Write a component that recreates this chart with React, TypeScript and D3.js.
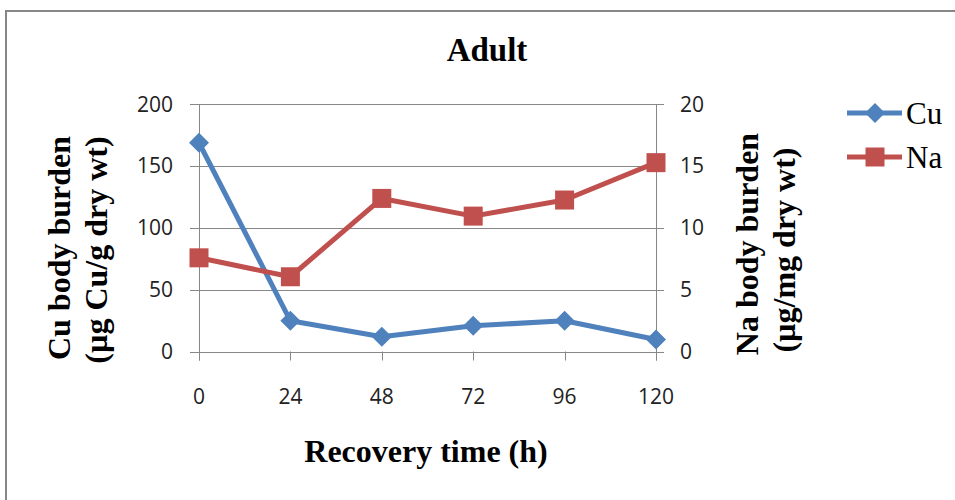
import React from "react";
import * as d3 from "d3";

// Recovery time (h)
const hours = [0, 24, 48, 72, 96, 120];
// Cu body burden (µg Cu/g dry wt) — primary axis
const cuValues = [168.7, 24.8, 11.9, 20.8, 24.8, 9.7];
// Na body burden (µg/mg dry wt) — secondary axis
const naValues = [7.57, 6.04, 12.37, 10.94, 12.24, 15.26];
const leftTicks = [0, 50, 100, 150, 200];
const rightTicks = [0, 5, 10, 15, 20];

const W = 955;
const H = 500;
const plot = { left: 199, right: 656, top: 104, bottom: 351.5 };
const BLUE = "#4F81BD";
const RED = "#C0504D";
const GRID = "#878787";
const SANS = "'Open Sans', 'Liberation Sans', sans-serif";
const SERIF = "'Liberation Serif', 'Times New Roman', serif";

export default function App() {
  const x = d3.scalePoint<number>().domain(hours).range([plot.left, plot.right]);
  const yL = d3.scaleLinear().domain([0, 200]).range([plot.bottom, plot.top]);
  const yR = d3.scaleLinear().domain([0, 20]).range([plot.bottom, plot.top]);

  const cuLine = d3
    .line<number>()
    .x((_, i) => x(hours[i])!)
    .y((d) => yL(d));
  const naLine = d3
    .line<number>()
    .x((_, i) => x(hours[i])!)
    .y((d) => yR(d));

  const diamond = (cx: number, cy: number, r: number) =>
    `M${cx},${cy - r}L${cx + r},${cy}L${cx},${cy + r}L${cx - r},${cy}Z`;
  const SQ = 19;
  const DR = 10;

  return (
    <svg
      width={W}
      height={H}
      style={{ position: "absolute", left: 0, top: 0, background: "#fff" }}
    >
      {/* chart frame */}
      <rect x={6} y={11} width={W + 10} height={H + 10} fill="#fff" stroke={GRID} strokeWidth={2} />

      {/* title */}
      <text x={487} y={61} textAnchor="middle" fontFamily={SERIF} fontWeight="bold" fontSize={33}>
        Adult
      </text>

      {/* horizontal gridlines with outward ticks */}
      {leftTicks.map((t) => (
        <line
          key={"g" + t}
          x1={plot.left - 9}
          x2={plot.right + 8}
          y1={Math.round(yL(t)) + 0.5}
          y2={Math.round(yL(t)) + 0.5}
          stroke={GRID}
          strokeWidth={1}
        />
      ))}
      {/* vertical axis lines */}
      <line x1={plot.left + 0.5} x2={plot.left + 0.5} y1={plot.top} y2={plot.bottom + 9} stroke={GRID} />
      <line x1={plot.right + 0.5} x2={plot.right + 0.5} y1={plot.top} y2={plot.bottom + 9} stroke={GRID} />
      {/* x tick marks */}
      {hours.map((h) => (
        <line
          key={"xt" + h}
          x1={Math.round(x(h)!) + 0.5}
          x2={Math.round(x(h)!) + 0.5}
          y1={plot.bottom}
          y2={plot.bottom + 9}
          stroke={GRID}
        />
      ))}

      {/* left tick labels */}
      {leftTicks.map((t) => (
        <text key={"lt" + t} x={173} y={yL(t) + 7.5} textAnchor="end" fontFamily={SANS} fontSize={21} fill="#222">
          {t}
        </text>
      ))}
      {/* right tick labels */}
      {rightTicks.map((t) => (
        <text key={"rt" + t} x={680} y={yR(t) + 7.5} textAnchor="start" fontFamily={SANS} fontSize={21} fill="#222">
          {t}
        </text>
      ))}
      {/* x tick labels */}
      {hours.map((h) => (
        <text key={"xl" + h} x={x(h)!} y={404} textAnchor="middle" fontFamily={SANS} fontSize={21} fill="#222">
          {h}
        </text>
      ))}

      {/* series */}
      <path d={cuLine(cuValues)!} fill="none" stroke={BLUE} strokeWidth={5} strokeLinejoin="round" />
      {cuValues.map((v, i) => (
        <path key={"cu" + i} d={diamond(x(hours[i])!, yL(v), DR)} fill={BLUE} />
      ))}
      <path d={naLine(naValues)!} fill="none" stroke={RED} strokeWidth={5} strokeLinejoin="round" />
      {naValues.map((v, i) => (
        <rect key={"na" + i} x={x(hours[i])! - SQ / 2} y={yR(v) - SQ / 2} width={SQ} height={SQ} fill={RED} />
      ))}

      {/* axis titles */}
      <text transform="translate(70,248) rotate(-90)" textAnchor="middle" fontFamily={SERIF} fontWeight="bold" fontSize={32}>
        Cu body burden
      </text>
      <text transform="translate(107,250) rotate(-90)" textAnchor="middle" fontFamily={SERIF} fontWeight="bold" fontSize={32}>
        (µg Cu/g dry wt)
      </text>
      <text transform="translate(758,244) rotate(-90)" textAnchor="middle" fontFamily={SERIF} fontWeight="bold" fontSize={32}>
        Na body burden
      </text>
      <text transform="translate(795,250) rotate(-90)" textAnchor="middle" fontFamily={SERIF} fontWeight="bold" fontSize={32}>
        (µg/mg dry wt)
      </text>
      <text x={426} y={462} textAnchor="middle" fontFamily={SERIF} fontWeight="bold" fontSize={32}>
        Recovery time (h)
      </text>

      {/* legend */}
      <line x1={847} x2={902} y1={113} y2={113} stroke={BLUE} strokeWidth={5} />
      <path d={diamond(875, 113, DR)} fill={BLUE} />
      <text x={906} y={124} fontFamily={SERIF} fontSize={31}>
        Cu
      </text>
      <line x1={847} x2={902} y1={157} y2={157} stroke={RED} strokeWidth={5} />
      <rect x={875 - SQ / 2} y={157 - SQ / 2} width={SQ} height={SQ} fill={RED} />
      <text x={906} y={168} fontFamily={SERIF} fontSize={31}>
        Na
      </text>
    </svg>
  );
}
